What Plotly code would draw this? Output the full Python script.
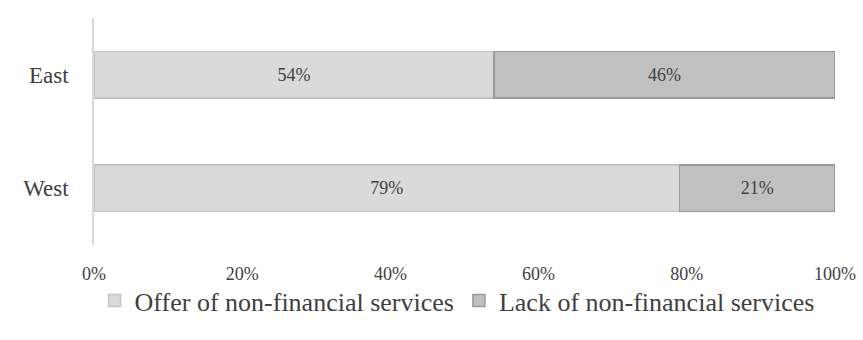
import plotly.graph_objects as go

regions = ["West", "East"]
offer = [79, 54]
lack = [21, 46]
tick_vals = [0, 20, 40, 60, 80, 100]
tick_text = ["0%", "20%", "40%", "60%", "80%", "100%"]

FONT = "Liberation Serif"

fig = go.Figure()
fig.add_trace(go.Bar(
    y=regions, x=offer, orientation="h",
    name="Offer of non-financial services",
    marker=dict(color="#dadada", line=dict(color="#c4c4c4", width=1.5)),
    text=[f"{v}%" for v in offer], textposition="inside",
    insidetextanchor="middle",
    textfont=dict(family=FONT, size=18, color="#404040"),
))
fig.add_trace(go.Bar(
    y=regions, x=lack, orientation="h",
    name="Lack of non-financial services",
    marker=dict(color="#c0c0c0", line=dict(color="#9a9a9a", width=1.5)),
    text=[f"{v}%" for v in lack], textposition="inside",
    insidetextanchor="middle",
    textfont=dict(family=FONT, size=18, color="#404040"),
))

fig.update_layout(
    width=863, height=340,
    barmode="stack", bargap=0.59,
    plot_bgcolor="white", paper_bgcolor="white",
    margin=dict(l=94, r=28, t=18, b=95, autoexpand=False),
    font=dict(family=FONT, size=18, color="#404040"),
    uniformtext=dict(mode="show", minsize=10),
    legend=dict(
        orientation="h", x=0.49, xanchor="center", y=-0.245, yanchor="middle",
        font=dict(family=FONT, size=26, color="#404040"),
        bgcolor="rgba(0,0,0,0)",
        itemwidth=30, traceorder="normal",
    ),
    xaxis=dict(
        range=[0, 100], tickvals=tick_vals, ticktext=tick_text,
        showgrid=False, zeroline=False, showline=False,
        ticklabelstandoff=16,
        tickfont=dict(family=FONT, size=18, color="#404040"),
    ),
    yaxis=dict(
        showgrid=False, zeroline=False, showline=True,
        linecolor="#d9d9d9", linewidth=1.5,
        ticklabelstandoff=19,
        tickfont=dict(family=FONT, size=23, color="#404040"),
    ),
)

fig.write_html("out.html")
